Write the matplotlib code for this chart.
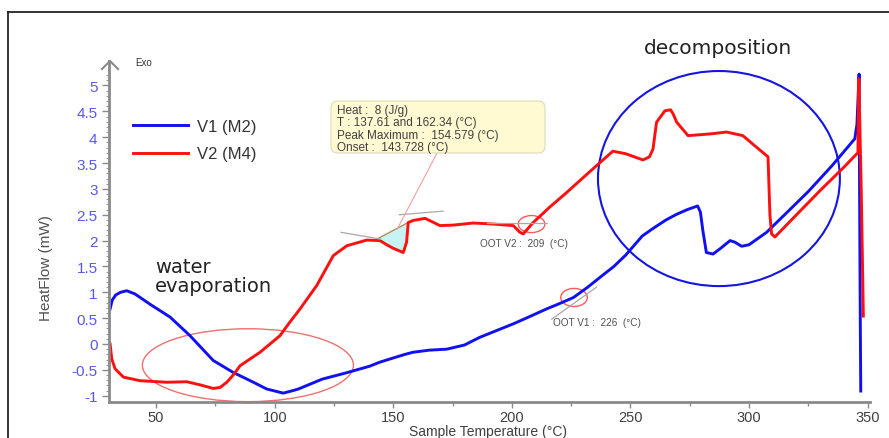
import numpy as np
import matplotlib
matplotlib.use("Agg")
import matplotlib.pyplot as plt
from matplotlib.patches import Ellipse, FancyBboxPatch
from matplotlib.lines import Line2D
from matplotlib.transforms import IdentityTransform

# ---------------- data ----------------
v1_temp = [30.6, 31.5, 33, 35, 37.6, 41, 47.4, 55.9, 64.3, 74.1, 82.5, 91, 96.6, 103.6,
           107.8, 110, 120, 130, 140, 144.4, 150, 155, 158.3, 165, 172.5, 180, 186.5,
           193, 200.6, 207, 214.7, 220, 226, 232, 238, 243, 248, 255, 260, 265, 269.5,
           274, 278.3, 279.5, 280.5, 282, 284.8, 288, 292, 294, 296.9, 300, 307.4, 315,
           325, 335, 344.6, 345.5, 346.4, 346.6, 346.9, 347.1]
v1_flow = [0.68, 0.85, 0.95, 1.0, 1.03, 0.97, 0.77, 0.52, 0.16, -0.32, -0.55, -0.74, -0.87,
           -0.95, -0.9, -0.87, -0.68, -0.56, -0.43, -0.35, -0.27, -0.2, -0.16, -0.12, -0.1,
           -0.02, 0.13, 0.25, 0.39, 0.52, 0.68, 0.78, 0.9, 1.1, 1.32, 1.5, 1.72, 2.09,
           2.25, 2.4, 2.51, 2.6, 2.67, 2.55, 2.2, 1.77, 1.74, 1.85, 2.0, 1.97, 1.89, 1.92,
           2.16, 2.5, 2.95, 3.45, 3.97, 4.25, 5.22, 3.0, 0.5, -0.91]

v2_temp = [30.6, 31.3, 32.7, 36.2, 43.2, 54.5, 62.9, 68.5, 74.1, 77, 79.8, 82.5, 85.4,
           93.8, 102.2, 106, 110.7, 117.7, 124.7, 130.4, 138.8, 144.4, 147.2, 150, 154.2,
           155.6, 156.3, 158.4, 163.4, 169.7, 175.3, 183.7, 192.2, 200.6, 203.4, 204.8,
           209, 216, 223.1, 230.1, 235.7, 242.6, 248, 255.3, 258, 259.5, 261, 264.5,
           266.9, 268, 269.5, 274.3, 280, 285, 290.5, 297.4, 302, 308, 308.8, 309.5,
           310.9, 320, 330, 340, 344.6, 345.9, 346.3, 347.3, 348.2]
v2_flow = [0.0, -0.29, -0.48, -0.64, -0.71, -0.74, -0.73, -0.79, -0.86, -0.84, -0.74, -0.6,
           -0.42, -0.16, 0.16, 0.4, 0.68, 1.13, 1.71, 1.9, 2.01, 2.0, 1.92, 1.85, 1.77,
           1.97, 2.35, 2.39, 2.43, 2.29, 2.3, 2.34, 2.32, 2.29, 2.16, 2.13, 2.35, 2.65,
           2.93, 3.22, 3.45, 3.73, 3.68, 3.56, 3.62, 3.77, 4.29, 4.51, 4.53, 4.45, 4.29,
           4.03, 4.05, 4.07, 4.1, 4.03, 3.85, 3.62, 2.5, 2.13, 2.07, 2.5, 2.97, 3.42,
           3.64, 3.7, 5.13, 3.0, 0.54]

series_labels = ["V1 (M2)", "V2 (M4)"]
x_ticks = [50, 100, 150, 200, 250, 300, 350]
y_ticks = [-1, -0.5, 0, 0.5, 1, 1.5, 2, 2.5, 3, 3.5, 4, 4.5, 5]
y_tick_labels = ["-1", "-0.5", "0", "0.5", "1", "1.5", "2", "2.5", "3", "3.5", "4", "4.5", "5"]

peak_start, peak_end = 141.5, 156.3
peak_base = [1.99, 2.35]
tooltip = "Heat :  8 (J/g)\nT : 137.61 and 162.34 (°C)\nPeak Maximum :  154.579 (°C)\nOnset :  143.728 (°C)"
oot_v2_text = "OOT V2 :  209  (°C)"
oot_v1_text = "OOT V1 :  226  (°C)"

# ---------------- figure ----------------
W, H = 889, 439
fig = plt.figure(figsize=(W / 100, H / 100), dpi=100)
fig.patch.set_facecolor("white")

def fx(px):
    return px / W

def fy(py):
    return 1 - py / H

ax = fig.add_axes([fx(108.7), fy(402.9), fx(870) - fx(108.7), fy(62.2) - fy(402.9)])
ax.set_xlim(30, 351)
ax.set_ylim(-1.12, 5.47)
for s in ["top", "right"]:
    ax.spines[s].set_visible(False)
for s in ["left", "bottom"]:
    ax.spines[s].set_color("#8a8a8a")
    ax.spines[s].set_linewidth(2)

ax.set_xticks(x_ticks)
ax.set_xticklabels([str(t) for t in x_ticks])
ax.set_xticks(np.arange(75, 351, 50), minor=True)
ax.set_yticks(y_ticks)
ax.set_yticklabels(y_tick_labels)
ax.set_yticks(np.arange(-1, 5.3, 0.1), minor=True)
ax.tick_params(axis="x", which="major", length=4, width=1, color="#8a8a8a",
               labelsize=10.5, labelcolor="#404040", pad=1.5)
ax.tick_params(axis="x", which="minor", length=3, width=1, color="#8a8a8a")
ax.tick_params(axis="y", which="major", length=5, width=1, color="#8a8a8a",
               labelsize=11, labelcolor="#5858f0", pad=3)
ax.tick_params(axis="y", which="minor", length=2.5, width=0.8, color="#9a9a9a")
for lab in ax.get_xticklabels() + ax.get_yticklabels():
    lab.set_family("Liberation Sans")

# curves
l1, = ax.plot(v1_temp, v1_flow, color="#1010f0", lw=2.1, solid_joinstyle="round")
l2, = ax.plot(v2_temp, v2_flow, color="#ff1010", lw=2.1, solid_joinstyle="round")

# onset peak fill
pt = np.linspace(peak_start, peak_end, 40)
red_seg = np.interp(pt, v2_temp, v2_flow)
base_seg = np.interp(pt, [peak_start, peak_end], peak_base)
ax.fill_between(pt, red_seg, base_seg, color="#c6f4f4", zorder=1.5, lw=0)
ax.plot([peak_start, peak_end], peak_base, color="#b08a55", lw=1, zorder=1.6)
ax.plot([128, 144.5], [2.16, 2.03], color="#a8a8a8", lw=0.9)
ax.plot([152.5, 171], [2.5, 2.57], color="#a8a8a8", lw=0.9)
ax.plot([168.4, 151.6], [3.69, 2.22], color="#f0a0a0", lw=0.8)

# OOT helpers
ax.plot([189.4, 214.7], [2.34, 2.34], color="#a8a8a8", lw=0.9)
ax.plot([216.8, 235.7], [0.48, 1.1], color="#a8a8a8", lw=0.9)
ax.add_patch(Ellipse((208.3, 2.32), 11.2, 0.33, fill=False, ec="#ff5a5a", lw=1))
ax.add_patch(Ellipse((226.2, 0.9), 11.2, 0.35, fill=False, ec="#ff5a5a", lw=1))
ax.text(186.5, 1.96, oot_v2_text, fontsize=7.2, color="#505050", family="Liberation Sans", va="center")
ax.text(217.5, 0.42, oot_v1_text, fontsize=7.2, color="#505050", family="Liberation Sans", va="center")

# big ellipses
ax.add_patch(Ellipse((88.7, -0.41), 89, 1.41, fill=False, ec="#f07070", lw=1, clip_on=False))
ax.add_patch(Ellipse((287.3, 3.2), 102, 4.16, fill=False, ec="#1515e0", lw=1.5, clip_on=False))

# tooltip box (pixel coordinates)
box = FancyBboxPatch((331, H - 154), 214, 52, boxstyle="round,pad=0,rounding_size=7",
                     transform=IdentityTransform(), fc="#fffad2", ec="#dcdcb8", lw=0.8,
                     zorder=5)
fig.add_artist(box)
fig.text(fx(337), fy(105), tooltip, fontsize=8.5, family="Liberation Sans",
         color="#404040", va="top", ha="left", linespacing=1.05, zorder=6)

# legend
leg = ax.legend([l1, l2], series_labels, loc="upper left",
                bbox_to_anchor=(fx(133), fy(120)), bbox_transform=fig.transFigure,
                frameon=False, handlelength=3.3, handletextpad=0.55,
                labelspacing=0.75, borderpad=0, borderaxespad=0,
                prop={"family": "Liberation Sans", "size": 12})
for t in leg.get_texts():
    t.set_color("#333333")

# y-axis chevron and Exo
ax.plot([fx(102), fx(110), fx(118)], [fy(70), fy(62), fy(70)], transform=fig.transFigure,
        color="#8a8a8a", lw=1.5, clip_on=False)
fig.text(fx(135), fy(63), "Exo", fontsize=7, color="#333333", family="Liberation Sans",
         va="center")

# annotations
fig.text(fx(155), fy(277), "water\nevaporation", fontsize=14, color="#222222",
         family="DejaVu Sans", va="center", ha="left", linespacing=1.05)
fig.text(fx(718), fy(48), "decomposition", fontsize=14.5, color="#222222",
         family="DejaVu Sans", va="center", ha="center")

# axis labels
fig.text(fx(488), fy(432.5), "Sample Temperature (°C)", fontsize=10, color="#404040",
         family="Liberation Sans", ha="center", va="center")
fig.text(fx(46), fy(268), "HeatFlow (mW)", fontsize=11, color="#505050",
         family="Liberation Sans", ha="center", va="center", rotation=90)

# outer frame
fig.add_artist(Line2D([fx(7.5), fx(7.5)], [-0.01, fy(12.5)], transform=fig.transFigure,
                      color="#222222", lw=1.3))
fig.add_artist(Line2D([fx(7.5), 1.01], [fy(12.5), fy(12.5)], transform=fig.transFigure,
                      color="#222222", lw=1.3))

fig.savefig("out.png", dpi=100)
